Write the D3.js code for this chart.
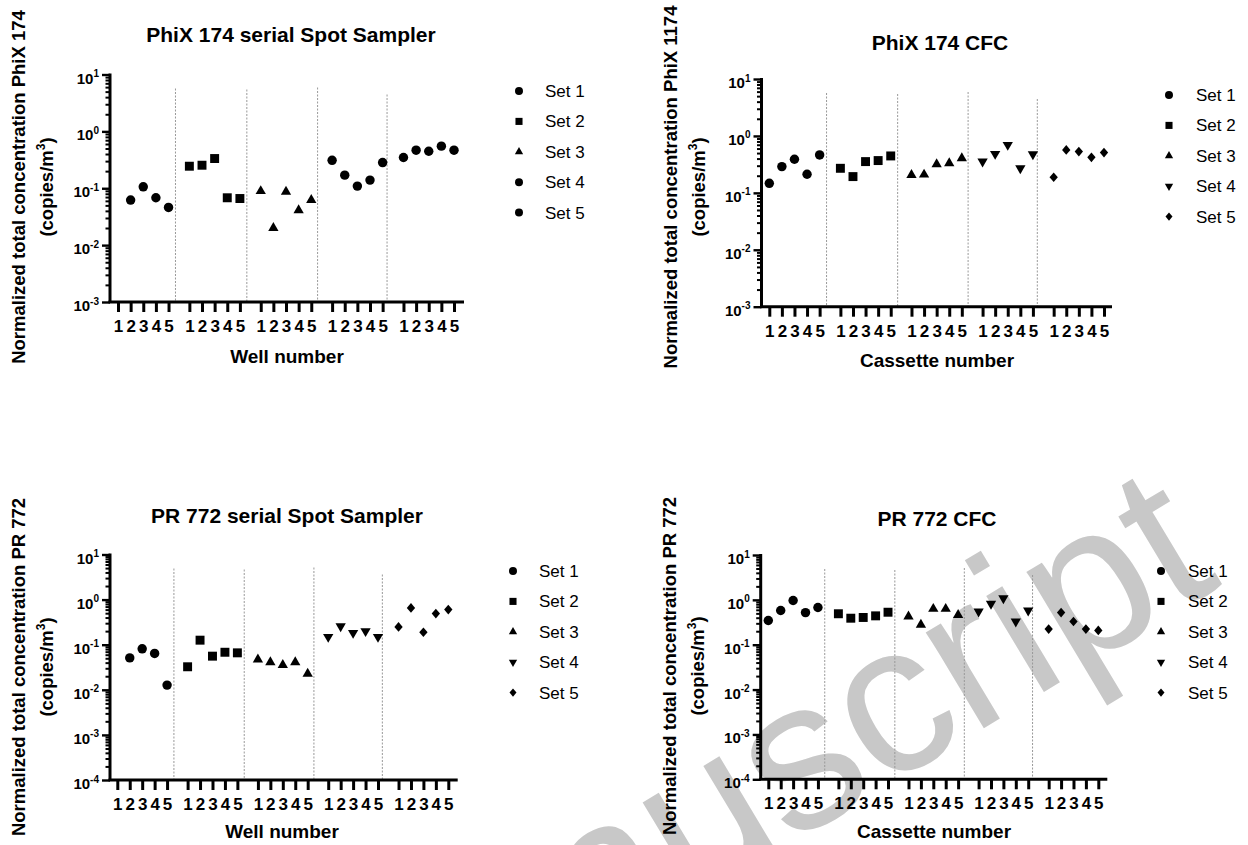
<!DOCTYPE html>
<html><head><meta charset="utf-8">
<script src="https://cdn.jsdelivr.net/npm/d3@7"></script>
<style>
body{margin:0;background:#fff}
svg{display:block}
text{font-family:Arial,"Liberation Sans",sans-serif;fill:#000}
</style>
</head><body><svg id="c" width="1248" height="845"></svg>
<script>
// ---------------- data ----------------
const wells = ["1", "2", "3", "4", "5"];
const setNames = ["Set 1", "Set 2", "Set 3", "Set 4", "Set 5"];
const titles = ["PhiX 174 serial Spot Sampler", "PhiX 174 CFC", "PR 772 serial Spot Sampler", "PR 772 CFC"];
const xTitles = ["Well number", "Cassette number", "Well number", "Cassette number"];
const yTitles = ["Normalized total concentration PhiX 174", "Normalized total concentration PhiX 1174",
                 "Normalized total concentration PR 772", "Normalized total concentration PR 772"];
const yExpTop = [-3, -2, -1, 0, 1];
const yExpBottom = [-4, -3, -2, -1, 0, 1];

// rows = sets (groups), columns = well / cassette 1..5 (null = no value)
const phixSpotSampler = [
  [null, 0.062, 0.106, 0.068, 0.046],
  [0.244, 0.254, 0.333, 0.068, 0.066],
  [0.089, 0.020, 0.087, 0.041, 0.062],
  [0.31, 0.17, 0.109, 0.139, 0.283],
  [0.347, 0.467, 0.447, 0.55, 0.467]
];
const phixCFC = [
  [0.147, 0.289, 0.389, 0.212, 0.463],
  [0.27, 0.193, 0.354, 0.369, 0.445],
  [0.206, 0.209, 0.318, 0.331, 0.405],
  [0.354, 0.483, 0.695, 0.27, 0.477],
  [0.188, 0.567, 0.53, 0.42, 0.51]
];
const pr772SpotSampler = [
  [null, 0.051, 0.081, 0.064, 0.0127],
  [0.0324, 0.126, 0.0557, 0.068, 0.066],
  [0.047, 0.041, 0.0354, 0.041, 0.0227],
  [0.149, 0.257, 0.183, 0.2, 0.149],
  [0.248, 0.654, 0.189, 0.49, 0.60]
];
const pr772CFC = [
  [0.347, 0.58, 0.966, 0.52, 0.675],
  [0.49, 0.39, 0.405, 0.44, 0.53],
  [0.426, 0.278, 0.63, 0.63, 0.46],
  [0.55, 0.815, 1.09, 0.33, 0.58],
  [0.223, 0.52, 0.33, 0.223, 0.208]
];
const shapesA = ["circle", "square", "triangle", "circle", "circle"];
const shapesB = ["circle", "square", "triangle", "triangleDown", "diamond"];

// ---------------- symbols ----------------
const triDown = {draw(ctx, size){
  const y = -Math.sqrt(size / (Math.sqrt(3) * 3));
  ctx.moveTo(0, -2 * y); ctx.lineTo(-Math.sqrt(3) * y, y); ctx.lineTo(Math.sqrt(3) * y, y); ctx.closePath();
}};
const diamond = {draw(ctx, size){
  const r = Math.sqrt(size / 2);
  ctx.moveTo(0, -r * 1.08); ctx.lineTo(r * 0.93, 0); ctx.lineTo(0, r * 1.08); ctx.lineTo(-r * 0.93, 0); ctx.closePath();
}};
const symTypes = {circle: d3.symbolCircle, square: d3.symbolSquare, triangle: d3.symbolTriangle, triangleDown: triDown, diamond: diamond};
const plotSize = {circle: 70, square: 80, triangle: 46, triangleDown: 46, diamond: 40};
const legSize = {circle: 50, square: 50, triangle: 30, triangleDown: 30, diamond: 28};

// ---------------- layout ----------------
const stride = 5.65;
const panels = [
  {data: phixSpotSampler, shapes: shapesA, exps: yExpTop, ax: 110, yTop: 74.5, yBot: 302, xFirst: 118, xLast: 454, xEnd: 464,
   title: [291, 42], xt: [287, 362.5], ytc: 187, leg: [519, 545, 91]},
  {data: phixCFC, shapes: shapesB, exps: yExpTop, ax: 761.5, yTop: 79, yBot: 306.7, xFirst: 769.3, xLast: 1104, xEnd: 1112,
   title: [940, 50], xt: [937, 367], ytc: 187, leg: [1169, 1196, 95]},
  {data: pr772SpotSampler, shapes: shapesB, exps: yExpBottom, ax: 110, yTop: 554.5, yBot: 780, xFirst: 117.3, xLast: 448.3, xEnd: 457.7,
   title: [287, 523], xt: [282, 838], ytc: 667, leg: [513, 539, 571]},
  {data: pr772CFC, shapes: shapesB, exps: yExpBottom, ax: 760.7, yTop: 555, yBot: 779.3, xFirst: 768.3, xLast: 1098.3, xEnd: 1107.3,
   title: [937, 526], xt: [934, 838], ytc: 666, leg: [1161, 1188, 571]}
];
const sepOffsets = [0.55, 0.55, 0.5, 0.35];
const sepTops = [14, 15, 13, 20];

const svg = d3.select("#c");

// watermark (behind)
svg.append("text").text("Manuscript")
  .attr("transform", "translate(335,1118) rotate(-31)")
  .attr("font-size", 212).style("fill", "#c8c8c8");

panels.forEach((p, pi) => {
  const g = svg.append("g");
  const yMin = Math.pow(10, d3.min(p.exps)), yMax = Math.pow(10, d3.max(p.exps));
  const y = d3.scaleLog().domain([yMin, yMax]).range([p.yBot, p.yTop]);
  const x = d3.scaleLinear().domain([0, 4 * stride + 4]).range([p.xFirst, p.xLast]);

  // separators
  for (let k = 0; k < 4; k++) {
    const sx = x(k * stride + 4 + sepOffsets[k]);
    g.append("line").attr("x1", sx).attr("x2", sx).attr("y1", p.yTop + sepTops[k]).attr("y2", p.yBot)
      .attr("stroke", "#999").attr("stroke-width", 1).attr("stroke-dasharray", "2,1.5");
  }

  // y axis minor ticks
  const minors = [];
  p.exps.slice(0, -1).forEach(e => { for (let m = 2; m <= 9; m++) minors.push(m * Math.pow(10, e)); });
  const majors = p.exps.map(e => Math.pow(10, e));
  const gMin = g.append("g").attr("transform", `translate(${p.ax},0)`)
    .call(d3.axisLeft(y).tickValues(minors).tickSize(4.5).tickSizeOuter(0).tickFormat(""));
  gMin.select(".domain").remove();
  gMin.selectAll("line").attr("stroke", "#000").attr("stroke-width", 2);
  const gMaj = g.append("g").attr("transform", `translate(${p.ax},0)`)
    .call(d3.axisLeft(y).tickValues(majors).tickSize(8).tickSizeOuter(0).tickFormat(""));
  gMaj.select(".domain").attr("stroke", "#000").attr("stroke-width", 3).attr("d", `M0,${p.yTop - 1}V${p.yBot}`);
  gMaj.selectAll("line").attr("stroke", "#000").attr("stroke-width", 2.4);
  // major labels 10^n
  p.exps.forEach(e => {
    const t = g.append("text").attr("x", p.ax - 11).attr("y", y(Math.pow(10, e)) + 9)
      .attr("text-anchor", "end").attr("font-size", 15).attr("font-weight", "bold");
    t.append("tspan").text("10");
    t.append("tspan").text(String(e)).attr("font-size", 10).attr("dy", -6.5);
  });

  // x axis
  const tickVals = [];
  for (let k = 0; k < 5; k++) for (let i = 0; i < 5; i++) tickVals.push(k * stride + i);
  const gx = g.append("g").attr("transform", `translate(0,${p.yBot})`)
    .call(d3.axisBottom(x).tickValues(tickVals).tickSize(10).tickSizeOuter(0)
      .tickFormat((d, i) => wells[i % 5]));
  gx.select(".domain").remove();
  gx.selectAll("line").attr("stroke", "#000").attr("stroke-width", 3);
  gx.selectAll("text").attr("y", 30).attr("dy", null).attr("font-size", 17).attr("font-weight", "bold")
    .attr("font-family", null).style("fill", "#000");
  g.append("line").attr("x1", p.ax - 1.5).attr("x2", p.xEnd).attr("y1", p.yBot).attr("y2", p.yBot)
    .attr("stroke", "#000").attr("stroke-width", 3);

  // points
  p.data.forEach((row, k) => {
    const sym = d3.symbol().type(symTypes[p.shapes[k]]).size(plotSize[p.shapes[k]]);
    row.forEach((v, i) => {
      if (v == null) return;
      g.append("path").attr("d", sym()).attr("fill", "#000")
        .attr("transform", `translate(${x(k * stride + i)},${y(v)})`);
    });
  });

  // titles
  g.append("text").attr("x", p.title[0]).attr("y", p.title[1]).attr("text-anchor", "middle")
    .attr("font-size", 21).attr("font-weight", "bold").text(titles[pi]);
  g.append("text").attr("x", p.xt[0]).attr("y", p.xt[1]).attr("text-anchor", "middle")
    .attr("font-size", 19).attr("font-weight", "bold").text(xTitles[pi]);
  g.append("text").attr("transform", `translate(${p.ax - 85},${p.ytc}) rotate(-90)`).attr("text-anchor", "middle")
    .attr("font-size", 18.5).attr("font-weight", "bold").text(yTitles[pi]);
  const t2 = g.append("text").attr("transform", `translate(${p.ax - 57},${p.ytc}) rotate(-90)`).attr("text-anchor", "middle")
    .attr("font-size", 18.5).attr("font-weight", "bold");
  t2.append("tspan").text("(copies/m");
  t2.append("tspan").text("3").attr("font-size", 12).attr("dy", -8);
  t2.append("tspan").text(")").attr("dy", 8);

  // legend
  setNames.forEach((s, k) => {
    const ly = p.leg[2] + k * 30.4;
    const sym = d3.symbol().type(symTypes[p.shapes[k]]).size(legSize[p.shapes[k]]);
    g.append("path").attr("d", sym()).attr("fill", "#000").attr("transform", `translate(${p.leg[0]},${ly})`);
    g.append("text").attr("x", p.leg[1]).attr("y", ly + 6).attr("font-size", 17).text(s);
  });
});
</script></body></html>
